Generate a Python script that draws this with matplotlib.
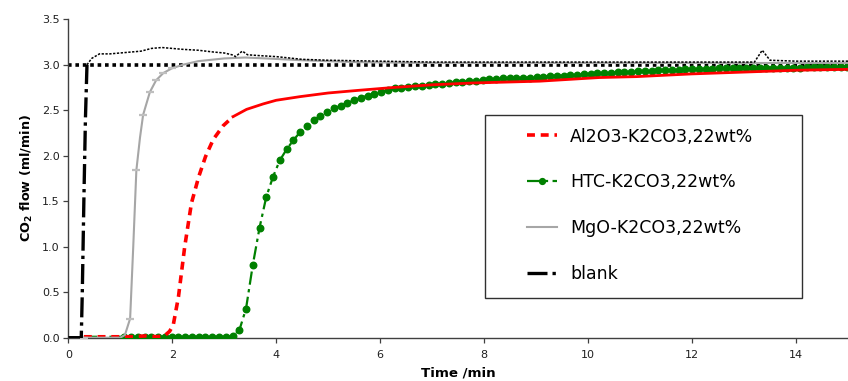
import numpy as np
import matplotlib
matplotlib.use("Agg")
import matplotlib.pyplot as plt
from matplotlib.patches import Rectangle
from matplotlib.lines import Line2D

plt.rcParams['font.family'] = ['DejaVu Sans']
plt.rcParams['mathtext.fontset'] = 'dejavusans'

# ---- data ----
setpoint = 3.0

# blank: fast rise, then noisy plateau
blank_rise_t = [0.0, 0.25, 0.27, 0.30, 0.33, 0.36]
blank_rise_v = [0.0, 0.0, 0.5, 1.5, 2.4, 3.0]
blank_t = [0.36, 0.45, 0.6, 0.8, 1.0, 1.2, 1.4, 1.6, 1.8, 2.0, 2.2, 2.5, 2.8, 3.0,
           3.15, 3.22, 3.3, 3.35, 3.45, 3.7, 4.0, 4.5, 5.0, 6.0, 7.0, 8.0, 10.0,
           12.0, 13.2, 13.35, 13.5, 14.0, 15.0]
blank_v = [3.0, 3.07, 3.12, 3.12, 3.13, 3.14, 3.15, 3.18, 3.19, 3.18, 3.17, 3.16,
           3.14, 3.13, 3.11, 3.09, 3.13, 3.15, 3.11, 3.10, 3.09, 3.06, 3.05, 3.04,
           3.03, 3.03, 3.03, 3.03, 3.03, 3.16, 3.05, 3.04, 3.04]

# MgO-K2CO3
mgo_t = [0.0, 0.3, 0.6, 1.0, 1.09, 1.19, 1.25, 1.31, 1.38, 1.44, 1.57, 1.69, 1.83,
         1.99, 2.2, 2.5, 3.0, 3.4, 3.8, 4.5, 5.5, 7.0, 9.0, 11.0, 13.0, 15.0]
mgo_v = [0.0, 0.0, 0.0, 0.0, 0.03, 0.21, 1.0, 1.84, 2.2, 2.45, 2.7, 2.83, 2.91,
         2.96, 3.0, 3.04, 3.07, 3.08, 3.07, 3.05, 3.03, 3.02, 3.02, 3.02, 3.02, 3.02]
mgo_marks = [1, 5, 7, 9, 10, 11, 12, 13]

# Al2O3-K2CO3
al_t = [0.3, 0.8, 1.2, 1.5, 1.7, 1.85, 1.95, 2.02, 2.12, 2.24, 2.37, 2.51, 2.64,
        2.79, 2.98, 3.17, 3.43, 3.75, 4.0, 4.46, 5.0, 5.6, 6.24, 7.0, 7.78, 9.07,
        10.22, 10.93, 12.0, 13.0, 14.0, 15.0]
al_v = [0.01, 0.01, 0.01, 0.02, 0.01, 0.02, 0.07, 0.14, 0.45, 1.0, 1.48, 1.77, 1.99,
        2.18, 2.33, 2.43, 2.51, 2.57, 2.61, 2.65, 2.69, 2.72, 2.75, 2.78, 2.80, 2.82,
        2.86, 2.87, 2.90, 2.92, 2.94, 2.95]
al_split = 15   # rise is dashed up to here, plateau drawn solid

# HTC-K2CO3, sampled every 0.13 min from 0.30 min
htc_t = np.round(0.30 + 0.13 * np.arange(114), 2)
htc_v = [0.01] * 22 + [
    0.02, 0.08, 0.32, 0.80, 1.21, 1.55, 1.77, 1.95, 2.07, 2.17,
    2.26, 2.33, 2.39, 2.44, 2.48, 2.52, 2.55, 2.58, 2.61, 2.64,
    2.66, 2.68, 2.70, 2.72, 2.74, 2.75, 2.76, 2.77, 2.77, 2.78,
    2.79, 2.79, 2.80, 2.81, 2.81, 2.82, 2.82, 2.83, 2.84, 2.84,
    2.85, 2.85, 2.85, 2.86, 2.86, 2.87, 2.87, 2.88, 2.88, 2.88,
    2.89, 2.89, 2.90, 2.90, 2.91, 2.91, 2.91, 2.92, 2.92, 2.92,
    2.93, 2.93, 2.93, 2.94, 2.94, 2.94, 2.94, 2.95, 2.95, 2.95,
    2.95, 2.95, 2.96, 2.96, 2.96, 2.96, 2.96, 2.96, 2.97, 2.97,
    2.97, 2.97, 2.97, 2.97, 2.97, 2.98, 2.98, 2.98, 2.98, 2.98,
    2.98, 2.98]

labels = ['Al2O3-K2CO3,22wt%', 'HTC-K2CO3,22wt%', 'MgO-K2CO3,22wt%', 'blank']

RED = '#ff0000'
GREEN = '#008000'
GREY = '#a6a6a6'

fig = plt.figure(figsize=(8.48, 3.81), dpi=100)
ax = fig.add_axes([0.0805, 0.1137, 0.9195, 0.8356])

ax.axhline(setpoint, color='black', lw=2.6, linestyle=(0, (1, 1.05)), zorder=2)

# HTC
ax.plot(htc_t, htc_v, color=GREEN, lw=1.6, linestyle=(0, (6, 2, 1.5, 2)),
        marker='o', ms=4.7, markevery=slice(6, None), zorder=3)

# Al2O3
ax.plot(al_t[:al_split + 1], al_v[:al_split + 1], color=RED, lw=2.6,
        linestyle=(0, (2.2, 1.6)), zorder=4)
ax.plot(al_t[al_split:], al_v[al_split:], color=RED, lw=2.0, zorder=4)

# MgO
ax.plot(mgo_t, mgo_v, color=GREY, lw=1.5, zorder=5)
ax.plot([mgo_t[i] for i in mgo_marks], [mgo_v[i] for i in mgo_marks], ls='none',
        marker='_', ms=6, mew=1.6, color='#bfbfbf', zorder=5)

# blank
ax.plot(blank_rise_t, blank_rise_v, color='black', lw=2.4,
        linestyle=(0, (6, 1.5, 1, 1.5)), zorder=6)
ax.plot(blank_t, blank_v, color='black', lw=1.1, linestyle=(0, (1.5, 1)), zorder=6)

ax.set_xlim(0, 15)
ax.set_ylim(0, 3.5)
ax.set_xticks(np.arange(0, 15, 2))
ax.set_yticks(np.arange(0, 3.51, 0.5))
ax.yaxis.set_major_formatter(matplotlib.ticker.FormatStrFormatter('%.1f'))
for s in ['top', 'right']:
    ax.spines[s].set_visible(False)
for s in ['left', 'bottom']:
    ax.spines[s].set_color('#404040')
    ax.spines[s].set_linewidth(1.0)
ax.tick_params(direction='out', length=3.4, width=0.9, color='#404040',
               labelsize=8, labelcolor='#202020')
ax.tick_params(axis='x', pad=5.5)
ax.tick_params(axis='y', pad=3)

ax.set_xlabel('Time /min', fontsize=9.6, fontweight='bold', labelpad=5)
ax.set_ylabel(r'CO$_\mathbf{2}$ flow (ml/min)', fontsize=9.2, fontweight='bold',
              labelpad=5)

# legend box
ax.add_patch(Rectangle((0.5345, 0.1247), 0.4066, 0.5747, transform=ax.transAxes,
                       fill=True, facecolor='white', edgecolor='#303030', lw=1.0,
                       zorder=8))
handles = [
    Line2D([], [], color=RED, lw=2.6, linestyle=(0, (2.2, 1.6))),
    Line2D([], [], color=GREEN, lw=1.6, linestyle=(0, (6, 2, 1.5, 2)),
           marker='o', ms=4.2, markevery=[1]),
    Line2D([], [], color=GREY, lw=1.5),
    Line2D([], [], color='black', lw=2.4, linestyle=(0, (6, 1.5, 1, 1.5))),
]
leg = ax.legend(handles, labels, loc='upper left', bbox_to_anchor=(0.588, 0.66),
                frameon=False, fontsize=12.5, handlelength=1.75, handletextpad=0.75,
                labelspacing=1.6, borderpad=0, borderaxespad=0)
leg.set_zorder(9)

fig.savefig('out.png', dpi=100)
